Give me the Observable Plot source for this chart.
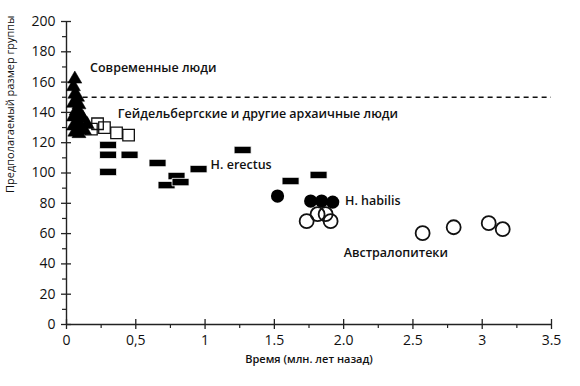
<!DOCTYPE html>
<html><head><meta charset="utf-8">
<script src="https://cdn.jsdelivr.net/npm/d3@7"></script>
<script src="https://cdn.jsdelivr.net/npm/@observablehq/plot@0.6"></script>
<style>body{margin:0;background:#fff;font-family:"Open Sans",sans-serif;}</style>
</head><body><div id="chart"></div>
<script>
// Modern humans (filled triangles)
const modernX = [0.06,0.05,0.06,0.08,0.05,0.09,0.07,0.10,0.05,0.12,0.08,0.05,0.11,0.15,0.06,0.09,0.13];
const modernY = [162,157,152,150,146,145,141,139,137,136,133,131,130,132,127,126,128];
// Heidelberg & other archaic humans (open squares)
const archaicX = [0.18,0.224,0.274,0.361,0.448];
const archaicY = [129,132.5,130,126.5,125];
// H. erectus (filled bars)
const erectusX = [0.30,0.30,0.455,0.30,0.657,0.794,0.722,0.823,0.953,1.271,1.617,1.819];
const erectusY = [118.5,112,112,100.7,106.6,98,92,94,102.6,115.2,94.7,98.7];
// H. habilis (filled circles)
const habilisX = [1.523,1.762,1.841,1.921];
const habilisY = [84.8,81.5,81.5,80.8];
// Australopithecines (open circles)
const australX = [1.733,1.812,1.870,1.906,2.570,2.794,3.047,3.148];
const australY = [68.2,72.8,72.8,68.2,60.3,64.2,66.9,62.9];

const xTicks = [0,0.5,1,1.5,2,2.5,3,3.5];
const xTickLabels = ["0","0,5","1","1.5","2.0","2.5","3","3.5"];
const xMinor = [0.25,0.75,1.25,1.75,2.25,2.75,3.25];
const yTicks = [0,20,40,60,80,100,120,140,160,180,200];
const yMinor = [10,30,50,70,90,110,130,150,170,190];
const threshold = 150;
const thresholdX = [0.12,3.5];

const groupLabels = ["Современные люди","Гейдельбергские и другие архаичные люди","H. erectus","H. habilis","Австралопитеки"];
const groupLabelX = [0.17,0.37,1.04,2.01,2.00];
const groupLabelY = [169,139,105,81.5,47.5];
const xTitle = "Время (млн. лет назад)";
const yTitle = "Предполагаемый размер группы";

const zip = (xs, ys) => xs.map((x, i) => ({x, y: ys[i]}));
const modern = zip(modernX, modernY);
const archaic = zip(archaicX, archaicY);
const erectus = zip(erectusX, erectusY);
const habilis = zip(habilisX, habilisY);
const austral = zip(australX, australY);
const labels = groupLabels.map((t, i) => ({t, x: groupLabelX[i], y: groupLabelY[i]}));
const xLabelMap = new Map(xTicks.map((d, i) => [d, xTickLabels[i]]));

const barSymbol = {draw(ctx) { ctx.moveTo(-8.5,-3.7); ctx.lineTo(8.5,-3.7); ctx.lineTo(8.5,3.7); ctx.lineTo(-8.5,3.7); ctx.closePath(); }};

const chart = Plot.plot({
  width: 580, height: 386,
  marginLeft: 66, marginRight: 29, marginTop: 21, marginBottom: 62,
  style: {fontFamily: "'Open Sans', sans-serif", color: "#111", background: "#fff"},
  x: {domain: [0, 3.5]},
  y: {domain: [0, 200]},
  marks: [
    // axis lines
    Plot.ruleY([0], {x1: 0, x2: 3.5, stroke: "#222", strokeWidth: 1.4}),
    Plot.ruleX([0], {y1: 0, y2: 200, stroke: "#222", strokeWidth: 1.4}),
    // ticks
    Plot.ruleX(xTicks, {x: d => d, y1: 0, y2: 0, insetTop: 5, insetBottom: 5, stroke: "#222", strokeWidth: 1.3}),
    Plot.ruleX(xMinor, {x: d => d, y1: 0, y2: 0, insetTop: 4, insetBottom: 0, stroke: "#222", strokeWidth: 1.2}),
    Plot.ruleY(yTicks, {y: d => d, x1: 0, x2: 0, insetLeft: 5, insetRight: 5, stroke: "#222", strokeWidth: 1.3}),
    Plot.ruleY(yMinor, {y: d => d, x1: 0, x2: 0, insetLeft: 0, insetRight: 4, stroke: "#222", strokeWidth: 1.2}),
    Plot.axisX(xTicks, {tickSize: 0, tickPadding: 11, tickFormat: d => xLabelMap.get(d), fontSize: 14, label: null}),
    Plot.axisY(yTicks, {tickSize: 0, tickPadding: 11, fontSize: 14, label: null}),
    // threshold line
    Plot.ruleY([threshold], {x1: thresholdX[0], x2: thresholdX[1], stroke: "#111", strokeWidth: 1.4, strokeDasharray: "5,4"}),
    // data
    Plot.dot(erectus, {x: "x", y: "y", symbol: barSymbol, fill: "#000", stroke: "#fff", strokeWidth: 0.8}),
    Plot.dot(archaic, {x: "x", y: "y", symbol: "square", r: 6.5, fill: "none", stroke: "#111", strokeWidth: 1.3}),
    Plot.dot(modern, {x: "x", y: "y", symbol: "triangle", r: 5.2, fill: "#000", stroke: "#000", strokeWidth: 0.5}),
    Plot.dot(habilis, {x: "x", y: "y", r: 6.6, fill: "#000"}),
    Plot.dot(austral, {x: "x", y: "y", r: 7, fill: "none", stroke: "#111", strokeWidth: 1.8}),
    // labels
    Plot.text(labels, {x: "x", y: "y", text: "t", textAnchor: "start", fontSize: 12.5, fontWeight: 600, fill: "#111"}),
    Plot.text([xTitle], {frameAnchor: "bottom", dy: 38, fontSize: 11, fontWeight: 600, fill: "#111"}),
    Plot.text([yTitle], {frameAnchor: "left", rotate: -90, dx: -56, dy: 20, fontSize: 11, fontWeight: 500, fill: "#111"})
  ]
});
document.getElementById("chart").appendChild(chart);
</script>
</body></html>
